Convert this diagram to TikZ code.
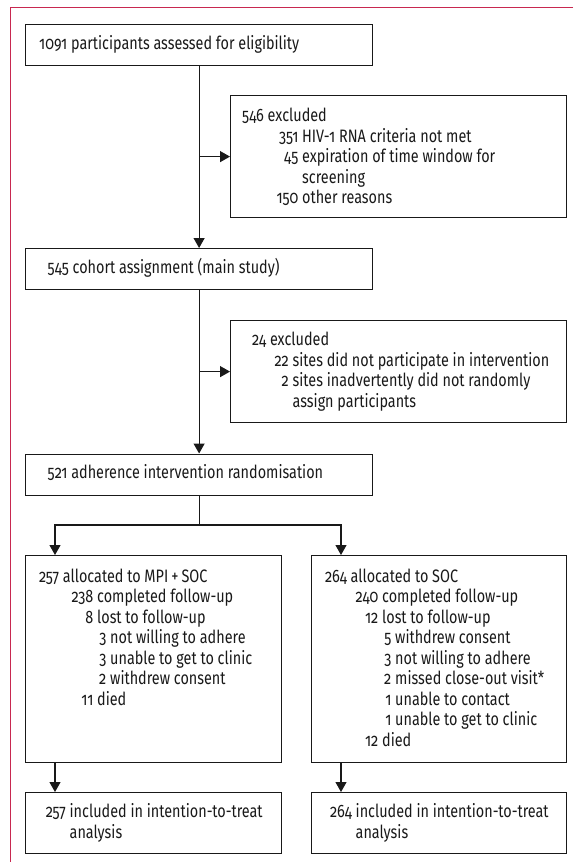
\documentclass[tikz,border=0pt]{standalone}
\usepackage{fontspec}
\setmainfont{Fira Sans}[Numbers=OldStyle, FakeStretch=0.8]
\usetikzlibrary{arrows.meta}
\definecolor{framecol}{RGB}{200,40,80}
\definecolor{ink}{RGB}{25,25,25}
\newcommand\nm[1]{\llap{#1\ }}
\begin{document}
\begin{tikzpicture}[x=1pt,y=-1pt,
  box/.style={draw=ink, line width=1.2pt, anchor=north west, inner sep=0pt},
  txt/.style={anchor=base west, inner sep=0pt, text=ink, font=\fontsize{18}{20}\selectfont},
  arr/.style={draw=ink, line width=1.2pt, -{Triangle[width=11pt,length=10pt]}},
  ln/.style={draw=ink, line width=1.2pt}]
\useasboundingbox (0,0) rectangle (573,862);
\draw[framecol, line width=1pt] (573,7.5) -- (10,7.5) -- (10,862);
% boxes
\node[box, minimum width=347pt, minimum height=41pt] (b1) at (25,24) {};
\node[box, minimum width=336pt, minimum height=122pt] (e1) at (230,95) {};
\node[box, minimum width=347pt, minimum height=41pt] (b2) at (25,248) {};
\node[box, minimum width=336pt, minimum height=102pt] (e2) at (230,320) {};
\node[box, minimum width=347pt, minimum height=41pt] (b3) at (25,453.5) {};
\node[box, minimum width=256pt, minimum height=207pt] (bL) at (25,555) {};
\node[box, minimum width=255.5pt, minimum height=207pt] (bR) at (310.5,555) {};
\node[box, minimum width=256pt, minimum height=61pt] (cL) at (25,792) {};
\node[box, minimum width=255.5pt, minimum height=61pt] (cR) at (310.5,792) {};
% connectors
\draw[arr] (b1) -- (b2);
\draw[arr] (b1.south |- e1.west) -- (e1.west);
\draw[arr] (b2) -- (b3);
\draw[arr] (b2.south |- e2.west) -- (e2.west);
\coordinate (aL) at (55,525);
\coordinate (aR) at (341,525);
\draw[ln] (b3.south) -- (b3.south |- aL);
\draw[arr] (b3.south |- aL) -- (aL) -- (aL |- bL.north);
\draw[arr] (b3.south |- aR) -- (aR) -- (aR |- bR.north);
\draw[arr] (aL |- bL.south) -- (aL |- cL.north);
\draw[arr] (aR |- bR.south) -- (aR |- cR.north);
% texts
\node[txt] (t1) at (39,49.5) {1091 participants assessed for eligibility};
\node[txt] (e1a) at (242,121.5) {546 excluded};
\node[txt] (e1b) at (302,142) {\nm{351}HIV-1 RNA criteria not met};
\node[txt] (e1c) at (302,162.5) {\nm{45}expiration of time window for};
\node[txt] (e1d) at (302,183) {screening};
\node[txt] (e1e) at (302,203.5) {\nm{150}other reasons};
\node[txt] (t2) at (47.5,273) {545 cohort assignment (main study)};
\node[txt] (e2a) at (252,345.5) {24 excluded};
\node[txt] (e2b) at (292.5,366) {\nm{22}sites did not participate in intervention};
\node[txt] (e2c) at (292.5,386.5) {\nm{2}sites inadvertently did not randomly};
\node[txt] (e2d) at (292.5,407) {assign participants};
\node[txt] (t3) at (47.5,478) {521 adherence intervention randomisation};
\node[txt] (la) at (39,582) {257 allocated to MPI\,+\,SOC};
\node[txt] (lb) at (97,602.5) {\nm{238}completed follow-up};
\node[txt] (lc) at (97,623) {\nm{8}lost to follow-up};
\node[txt] (ld) at (110,643.5) {\nm{3}not willing to adhere};
\node[txt] (le) at (110,664) {\nm{3}unable to get to clinic};
\node[txt] (lf) at (110,684.5) {\nm{2}withdrew consent};
\node[txt] (lg) at (97,705) {\nm{11}died};
\node[txt] (ra) at (325,582) {264 allocated to SOC};
\node[txt] (rb) at (382,602.5) {\nm{240}completed follow-up};
\node[txt] (rc) at (382,623) {\nm{12}lost to follow-up};
\node[txt] (rd) at (395,643.5) {\nm{5}withdrew consent};
\node[txt] (re) at (395,664) {\nm{3}not willing to adhere};
\node[txt] (rf) at (395,684.5) {\nm{2}missed close-out visit*};
\node[txt] (rg) at (395,705) {\nm{1}unable to contact};
\node[txt] (rh) at (395,725.5) {\nm{1}unable to get to clinic};
\node[txt] (ri) at (382,746) {\nm{12}died};
\node[txt] (ca) at (69.5,817.5) {\nm{257}included in intention-to-treat};
\node[txt] (cb) at (69.5,838) {analysis};
\node[txt] (da) at (355.5,817.5) {\nm{264}included in intention-to-treat};
\node[txt] (db) at (355.5,838) {analysis};
\end{tikzpicture}
\end{document}
